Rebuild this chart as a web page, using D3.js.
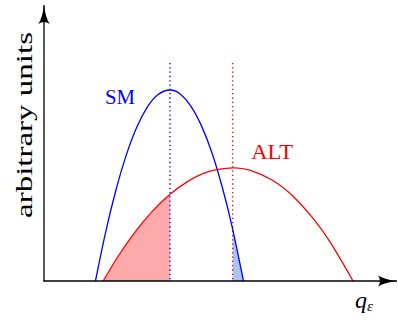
<!DOCTYPE html>
<html>
<head>
<meta charset="utf-8">
<script src="https://cdn.jsdelivr.net/npm/d3@7"></script>
<style>
  html, body { margin: 0; padding: 0; background: #fff; }
  svg { display: block; }
</style>
</head>
<body>
<svg id="chart" width="398" height="325" font-family="Liberation Serif"></svg>
<script>
// Standard-model distribution (q, value) samples
const smQ = [1.47, 1.75, 2.05, 2.35, 2.65, 2.95, 3.25, 3.6, 3.9, 4.2, 4.5, 4.8, 5.1, 5.39, 5.7];
const smV = [0, 1.71, 3.27, 4.56, 5.57, 6.30, 6.75, 6.92, 6.77, 6.33, 5.62, 4.64, 3.37, 1.88, 0];

// Alternative-hypothesis distribution (q, value) samples
const altQ = [1.69, 2.1, 2.6, 3.1, 3.6, 4.1, 4.7, 5.39, 5.9, 6.5, 7.1, 7.7, 8.2, 8.83];
const altV = [0, 0.86, 1.77, 2.53, 3.14, 3.60, 3.96, 4.10, 4.01, 3.67, 3.09, 2.25, 1.36, 0];

// Medians of the two distributions (dotted markers)
const smMedian = 3.6;
const altMedian = 5.39;
const markerTop = 7.9;

// Axis and series labels
const seriesLabels = ["SM", "ALT"];
const yAxisLabel = "arbitrary units";
const xAxisLabel = "q";
const xAxisSub = "ε";

const svg = d3.select("#chart");
const x = d3.scaleLinear().domain([0, 10]).range([44, 394]);
const y = d3.scaleLinear().domain([0, 10]).range([281, 5]);

const sm = smQ.map((q, i) => ({ q, v: smV[i] }));
const alt = altQ.map((q, i) => ({ q, v: altV[i] }));

const curve = d3.curveNatural;
const line = d3.line().x(d => x(d.q)).y(d => y(d.v)).curve(curve);
const area = d3.area().x(d => x(d.q)).y0(y(0)).y1(d => y(d.v)).curve(curve);

// Shaded tails: ALT below the SM median, SM above the ALT median
svg.append("path")
  .datum(alt.filter(d => d.q <= smMedian))
  .attr("d", area)
  .attr("fill", "#ffaaaa");
svg.append("path")
  .datum(sm.filter(d => d.q >= altMedian))
  .attr("d", area)
  .attr("fill", "#a9c6fb");

// Dotted median markers
[[smMedian, "#0000ff"], [altMedian, "#ff0000"]].forEach(([m, c]) => {
  svg.append("line")
    .attr("x1", x(m)).attr("x2", x(m))
    .attr("y1", y(markerTop)).attr("y2", y(0))
    .attr("stroke", c).attr("stroke-width", 1.4)
    .attr("stroke-dasharray", "1.3,3");
});

// Distribution curves
svg.append("path").datum(sm).attr("d", line)
  .attr("fill", "none").attr("stroke", "#0000ff").attr("stroke-width", 1.3);
svg.append("path").datum(alt).attr("d", line)
  .attr("fill", "none").attr("stroke", "#ff0000").attr("stroke-width", 1.3);

// Axes with stealth arrow heads
const defs = svg.append("defs");
defs.append("marker")
  .attr("id", "arrow")
  .attr("viewBox", "0 -6 20 12")
  .attr("refX", 19).attr("refY", 0)
  .attr("markerWidth", 20).attr("markerHeight", 12)
  .attr("markerUnits", "userSpaceOnUse")
  .attr("orient", "auto")
  .append("path")
  .attr("d", "M0,-5.8 Q6,-1.5 19,0 Q6,1.5 0,5.8 Q4,0 0,-5.8 Z")
  .attr("fill", "#000");

svg.append("line")
  .attr("x1", x(0) - 0.5).attr("x2", 397)
  .attr("y1", y(0)).attr("y2", y(0))
  .attr("stroke", "#000").attr("stroke-width", 1.3)
  .attr("marker-end", "url(#arrow)");
svg.append("line")
  .attr("x1", x(0)).attr("x2", x(0))
  .attr("y1", y(0) + 0.5).attr("y2", 5)
  .attr("stroke", "#000").attr("stroke-width", 1.3)
  .attr("marker-end", "url(#arrow)");

// Series labels
svg.append("text")
  .attr("x", x(1.74)).attr("y", y(6.41))
  .attr("font-size", 20).attr("fill", "#0000ff")
  .attr("textLength", 30).attr("lengthAdjust", "spacingAndGlyphs")
  .text(seriesLabels[0]);
svg.append("text")
  .attr("x", x(5.92)).attr("y", y(4.42))
  .attr("font-size", 20).attr("fill", "#ff0000")
  .attr("textLength", 42).attr("lengthAdjust", "spacingAndGlyphs")
  .text(seriesLabels[1]);

// Axis titles
svg.append("text")
  .attr("transform", "translate(32,218) rotate(-90)")
  .attr("font-size", 24)
  .attr("textLength", 186).attr("lengthAdjust", "spacingAndGlyphs")
  .text(yAxisLabel);

const xt = svg.append("text")
  .attr("x", 355).attr("y", 308)
  .attr("font-size", 24);
xt.append("tspan").attr("font-style", "italic").text(xAxisLabel);
xt.append("tspan").attr("font-style", "italic").attr("font-size", 15)
  .attr("dy", 3).text(xAxisSub);
</script>
</body>
</html>
